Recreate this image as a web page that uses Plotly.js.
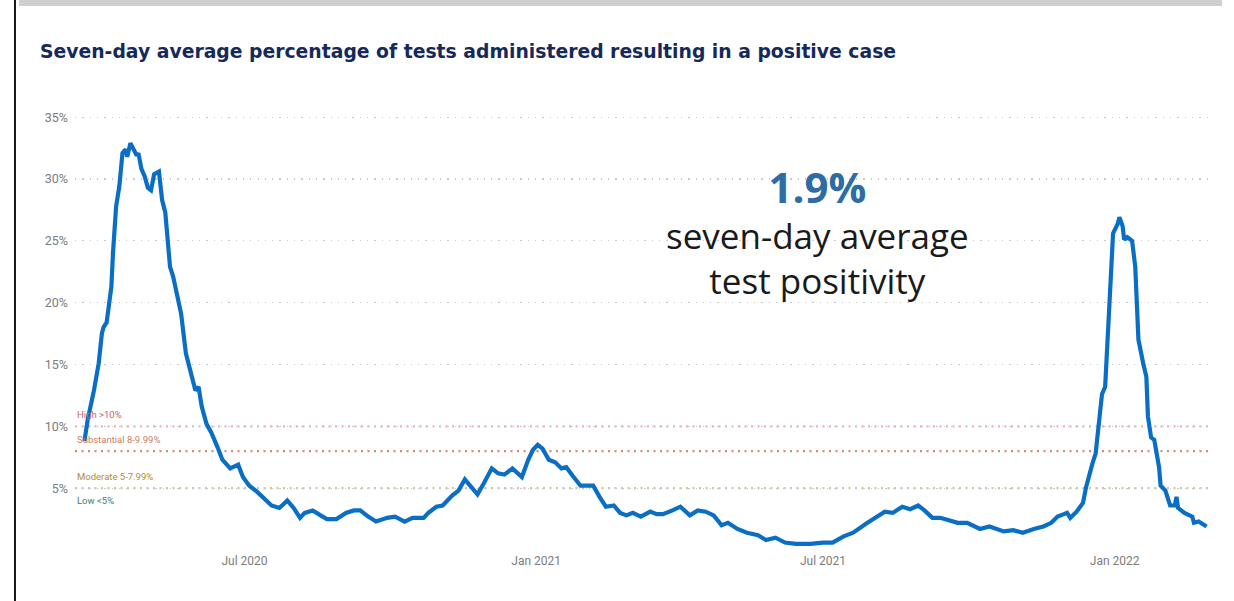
<!DOCTYPE html>
<html>
<head>
<meta charset="utf-8">
<script src="https://cdn.plot.ly/plotly-3.0.1.min.js"></script>
<style>
  html, body { margin: 0; padding: 0; background: #ffffff; }
  #wrap { position: relative; width: 1234px; height: 601px; overflow: hidden; }
  #chart { position: absolute; left: 0; top: 0; width: 1234px; height: 601px; }
  .frame { position: absolute; pointer-events: none; }
</style>
</head>
<body>
<div id="wrap">
  <div id="chart"></div>
  <div class="frame" style="left:14px; top:0; width:2px; height:601px; background:#1a1a1a;"></div>
  <div class="frame" style="left:19px; top:0; width:1203px; height:6px; background:#d0cfcf;"></div>
</div>
<script>
// ---- data ----
const dates = [
  '2020-03-22','2020-03-24','2020-03-28','2020-03-31',
  '2020-04-02','2020-04-03','2020-04-05','2020-04-08','2020-04-09','2020-04-11','2020-04-13','2020-04-15','2020-04-17','2020-04-18','2020-04-20','2020-04-22','2020-04-24','2020-04-25','2020-04-27','2020-04-29',
  '2020-05-01','2020-05-03','2020-05-05','2020-05-08','2020-05-10','2020-05-12','2020-05-13','2020-05-15','2020-05-17','2020-05-19','2020-05-22','2020-05-25','2020-05-28','2020-05-31',
  '2020-06-02','2020-06-04','2020-06-07','2020-06-10','2020-06-14','2020-06-17','2020-06-22','2020-06-27','2020-06-30',
  '2020-07-04','2020-07-09','2020-07-13','2020-07-18','2020-07-23','2020-07-28',
  '2020-08-01','2020-08-05','2020-08-08','2020-08-13','2020-08-18','2020-08-22','2020-08-28',
  '2020-09-03','2020-09-08','2020-09-12','2020-09-17','2020-09-22','2020-09-29',
  '2020-10-04','2020-10-10','2020-10-15','2020-10-22','2020-10-25','2020-10-30',
  '2020-11-03','2020-11-09','2020-11-13','2020-11-17','2020-11-21','2020-11-25','2020-11-29',
  '2020-12-04','2020-12-08','2020-12-12','2020-12-17','2020-12-20','2020-12-23','2020-12-27','2020-12-30',
  '2021-01-02','2021-01-05','2021-01-09','2021-01-13','2021-01-17','2021-01-20','2021-01-24','2021-01-29',
  '2021-02-03','2021-02-06','2021-02-10','2021-02-14','2021-02-19','2021-02-23','2021-02-27',
  '2021-03-03','2021-03-08','2021-03-14','2021-03-18','2021-03-22','2021-03-28',
  '2021-04-02','2021-04-08','2021-04-13','2021-04-18','2021-04-23','2021-04-28',
  '2021-05-02','2021-05-08','2021-05-14','2021-05-21','2021-05-26',
  '2021-06-01','2021-06-07','2021-06-14','2021-06-23',
  '2021-07-01','2021-07-07','2021-07-14','2021-07-20','2021-07-29',
  '2021-08-04','2021-08-09','2021-08-14','2021-08-20','2021-08-25','2021-08-30',
  '2021-09-03','2021-09-08','2021-09-13','2021-09-19','2021-09-24','2021-09-30',
  '2021-10-08','2021-10-14','2021-10-23','2021-10-29',
  '2021-11-04','2021-11-11','2021-11-17','2021-11-22','2021-11-26','2021-11-30',
  '2021-12-02','2021-12-04','2021-12-08','2021-12-12','2021-12-14','2021-12-18','2021-12-20','2021-12-22','2021-12-24','2021-12-26','2021-12-27','2021-12-28','2021-12-29','2021-12-30','2021-12-31',
  '2022-01-03','2022-01-04','2022-01-06','2022-01-07','2022-01-09','2022-01-12','2022-01-14','2022-01-15','2022-01-16','2022-01-19','2022-01-21','2022-01-22','2022-01-24','2022-01-26','2022-01-29','2022-01-30',
  '2022-02-02','2022-02-05','2022-02-08','2022-02-09','2022-02-10','2022-02-14','2022-02-19','2022-02-20','2022-02-23','2022-02-28'
];

const positivity = [
  8.8,10.5,12.9,15.1,
  17.5,18.0,18.4,21.3,24.0,27.8,29.4,32.1,32.4,31.8,32.9,32.4,31.9,32.1,30.8,30.2,
  29.3,29.1,30.4,30.6,28.3,27.3,25.6,22.9,22.1,21.0,19.1,15.9,14.3,12.9,
  13.2,11.6,10.2,9.5,8.3,7.3,6.6,6.9,5.9,
  5.2,4.7,4.2,3.6,3.4,4.0,
  3.4,2.6,3.0,3.2,2.8,2.5,2.5,
  3.0,3.2,3.2,2.7,2.3,2.6,
  2.7,2.3,2.6,2.6,3.0,3.5,
  3.6,4.4,4.8,5.7,5.1,4.5,5.4,
  6.6,6.2,6.1,6.6,6.2,5.9,7.3,8.1,
  8.5,8.2,7.3,7.1,6.6,6.7,6.0,5.2,
  5.2,5.2,4.3,3.5,3.6,3.0,2.8,
  3.0,2.7,3.1,2.9,2.9,3.2,
  3.5,2.8,3.2,3.1,2.8,2.0,
  2.2,1.7,1.4,1.2,0.8,
  1.0,0.6,0.5,0.5,
  0.6,0.6,1.1,1.4,2.2,
  2.7,3.1,3.0,3.5,3.3,3.6,
  3.2,2.6,2.6,2.4,2.2,2.2,
  1.7,1.9,1.5,1.6,
  1.4,1.7,1.9,2.2,2.7,2.9,
  3.0,2.6,3.1,3.8,5.1,7.0,7.8,10.2,12.6,13.2,15.6,17.8,21.0,24.0,25.6,
  26.4,26.9,26.2,25.1,25.3,25.0,22.9,20.5,17.0,15.1,14.0,10.8,9.1,8.9,6.7,5.2,
  4.8,3.6,3.6,4.3,3.4,3.0,2.7,2.2,2.3,1.9
];

const yTicks = [5, 10, 15, 20, 25, 30, 35];
const yTickText = yTicks.map(v => v + '%');

const levelNames  = ['High >10%', 'Substantial 8-9.99%', 'Moderate 5-7.99%', 'Low <5%'];
const levelValues = [10, 8, 5, 5];
const levelLineColors  = ['#ebb1b3', '#d98a6e', '#cfc49b'];
const levelTextColors  = ['#c9656f', '#c9805f', '#b38d2e', '#3e7c7d'];

const titleText = 'Seven-day average percentage of tests administered resulting in a positive case';
const latestValue = positivity[positivity.length - 1];
const cardLines = ['seven-day average', 'test positivity'];

// ---- figure ----
const trace = {
  x: dates,
  y: positivity,
  type: 'scatter',
  mode: 'lines',
  line: { color: '#0a6fc4', width: 4.2, shape: 'linear' },
  hoverinfo: 'skip'
};

const shapes = levelLineColors.map((c, i) => ({
  type: 'line', xref: 'paper', yref: 'y',
  x0: 0, x1: 1, y0: levelValues[i], y1: levelValues[i],
  line: { color: c, width: 2.2, dash: '2px,4.5px' },
  layer: 'below'
}));

const levelAnnotations = levelNames.map((t, i) => ({
  xref: 'paper', yref: 'y', x: 0, y: levelValues[i],
  xanchor: 'left', yanchor: 'middle', showarrow: false,
  yshift: i === levelNames.length - 1 ? -12 : 12,
  text: t.replace('<', '&lt;').replace('>', '&gt;'),
  font: { family: 'Roboto, sans-serif', size: 9.5, color: levelTextColors[i] }
}));

const cardText =
  '<span style="font-size:42px;font-weight:bold;fill:#2e6ca4;color:#2e6ca4">' +
  latestValue.toFixed(1) + '%</span><br>' + cardLines.join('<br>');

const cardAnnotations = [
  {
    xref: 'paper', yref: 'paper', x: 0.6526, y: 0.725,
    xanchor: 'center', yanchor: 'middle', showarrow: false,
    align: 'center',
    text: cardText,
    font: { family: 'Open Sans, sans-serif', size: 35, color: '#1a1a1a' }
  }
];

const layout = {
  width: 1234, height: 601,
  margin: { l: 75, r: 22, t: 110, b: 51, pad: 0 },
  paper_bgcolor: '#ffffff', plot_bgcolor: '#ffffff',
  showlegend: false,
  hovermode: false,
  title: {
    text: '<b>' + titleText + '</b>',
    x: 40 / 1234, xref: 'container', xanchor: 'left',
    y: 1 - 51 / 601, yref: 'container', yanchor: 'middle',
    font: { family: 'DejaVu Sans, sans-serif', size: 18.8, color: '#16295b' }
  },
  xaxis: {
    type: 'date',
    range: ['2020-03-16 01:00', '2022-03-03 10:00'],
    tick0: '2020-01-01', dtick: 'M6', tickformat: '%b %Y',
    showgrid: false, zeroline: false, showline: false, ticks: '',
    ticklabelstandoff: 2,
    tickfont: { family: 'Roboto, sans-serif', size: 12, color: '#7c7c7c' }
  },
  yaxis: {
    range: [0, 35.58],
    tickmode: 'array', tickvals: yTicks, ticktext: yTickText,
    showgrid: true, gridcolor: '#c9c9c9', gridwidth: 1.3, griddash: '1.3px,6px',
    zeroline: false, showline: false, ticks: '',
    ticklabelstandoff: 6,
    tickfont: { family: 'Roboto, sans-serif', size: 12.5, color: '#7c7c7c' }
  },
  shapes: shapes,
  annotations: levelAnnotations.concat(cardAnnotations)
};

Plotly.newPlot('chart', [trace], layout, { displayModeBar: false, staticPlot: true });
</script>
</body>
</html>
